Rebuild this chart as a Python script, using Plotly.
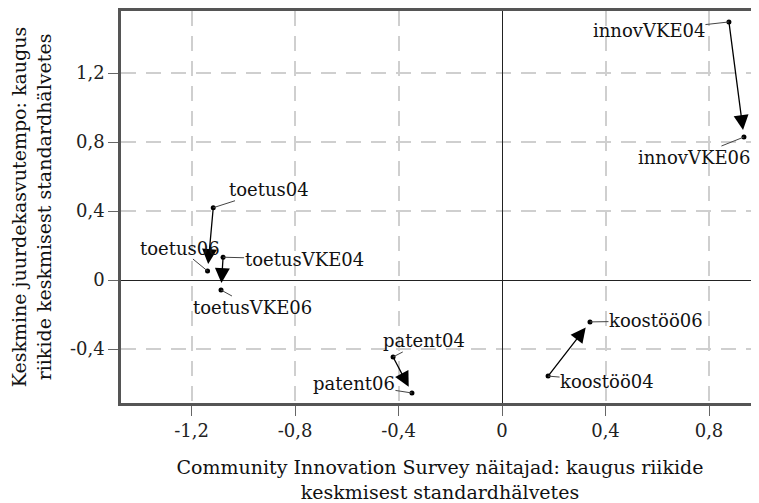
import plotly.graph_objects as go

# ---- data ----
labels = ["innovVKE04", "innovVKE06", "toetus04", "toetus06", "toetusVKE04",
          "toetusVKE06", "patent04", "patent06", "koostöö04", "koostöö06"]
x_vals = [0.877, 0.935, -1.116, -1.138, -1.078, -1.086, -0.421, -0.348, 0.178, 0.340]
y_vals = [1.496, 0.829, 0.419, 0.052, 0.132, -0.058, -0.446, -0.655, -0.557, -0.243]

# movement arrows: (from label, to label)
moves = [("innovVKE04", "innovVKE06"), ("toetus04", "toetus06"),
         ("toetusVKE04", "toetusVKE06"), ("patent04", "patent06"),
         ("koostöö04", "koostöö06")]

tick_vals_x = [-1.2, -0.8, -0.4, 0, 0.4, 0.8]
tick_text_x = ["-1,2", "-0,8", "-0,4", "0", "0,4", "0,8"]
tick_vals_y = [-0.4, 0, 0.4, 0.8, 1.2]
tick_text_y = ["-0,4", "0", "0,4", "0,8", "1,2"]

x_title = "Community Innovation Survey näitajad: kaugus riikide<br>keskmisest standardhälvetes"
y_title = "Keskmine juurdekasvutempo: kaugus<br>riikide keskmisest standardhälvetes"

# ---- layout helpers (pixel offsets of label text from its point) ----
label_offsets = {
    "innovVKE04": (-80, 9), "innovVKE06": (-50, 20),
    "toetus04": (56, -18), "toetus06": (-28, -23),
    "toetusVKE04": (81, 2), "toetusVKE06": (31, 17),
    "patent04": (31, -16), "patent06": (-58, -9),
    "koostöö04": (59, 5), "koostöö06": (66, -1),
}

FONT = "DejaVu Serif"
pos = {l: (x, y) for l, x, y in zip(labels, x_vals, y_vals)}

fig = go.Figure()
fig.add_trace(go.Scatter(x=x_vals, y=y_vals, mode="markers",
                         marker=dict(color="black", size=5),
                         hoverinfo="text", text=labels, showlegend=False))

annotations = []
for a, b in moves:
    x0, y0 = pos[a]
    x1, y1 = pos[b]
    annotations.append(dict(x=x1, y=y1, ax=x0, ay=y0, xref="x", yref="y",
                            axref="x", ayref="y", text="", showarrow=True,
                            arrowhead=2, arrowsize=2.3, arrowwidth=1.3,
                            arrowcolor="black", standoff=7))
for l in labels:
    dx, dy = label_offsets[l]
    x, y = pos[l]
    annotations.append(dict(x=x, y=y, xref="x", yref="y", ax=dx, ay=dy,
                            text=l, showarrow=True, arrowhead=0,
                            arrowwidth=1, arrowcolor="#444", borderpad=0,
                            font=dict(family=FONT, size=18, color="#111")))

grid = dict(showgrid=True, gridcolor="#cfcfcf", gridwidth=2, griddash="15px,10px",
            zeroline=True, zerolinecolor="#222", zerolinewidth=1,
            showline=True, linecolor="#555", linewidth=2.5,
            ticks="outside", ticklen=10, tickcolor="#666", tickwidth=1,
            tickfont=dict(family=FONT, size=18, color="#222"))

fig.update_layout(
    width=751, height=495,
    margin=dict(l=113, r=0, t=3, b=100),
    paper_bgcolor="white", plot_bgcolor="white",
    font=dict(family=FONT, size=18, color="#111"),
    annotations=annotations,
    xaxis=dict(range=[-1.4725, 0.9932], tickvals=tick_vals_x, ticktext=tick_text_x,
               mirror=True, automargin=False,
               title=dict(text=x_title, standoff=24,
                          font=dict(family=FONT, size=19, color="#111")), **grid),
    yaxis=dict(range=[-0.7130, 1.5594], tickvals=tick_vals_y, ticktext=tick_text_y,
               automargin=False,
               title=dict(text=y_title, standoff=16,
                          font=dict(family=FONT, size=19, color="#111")), **grid),
)

fig.write_html("out.html")
